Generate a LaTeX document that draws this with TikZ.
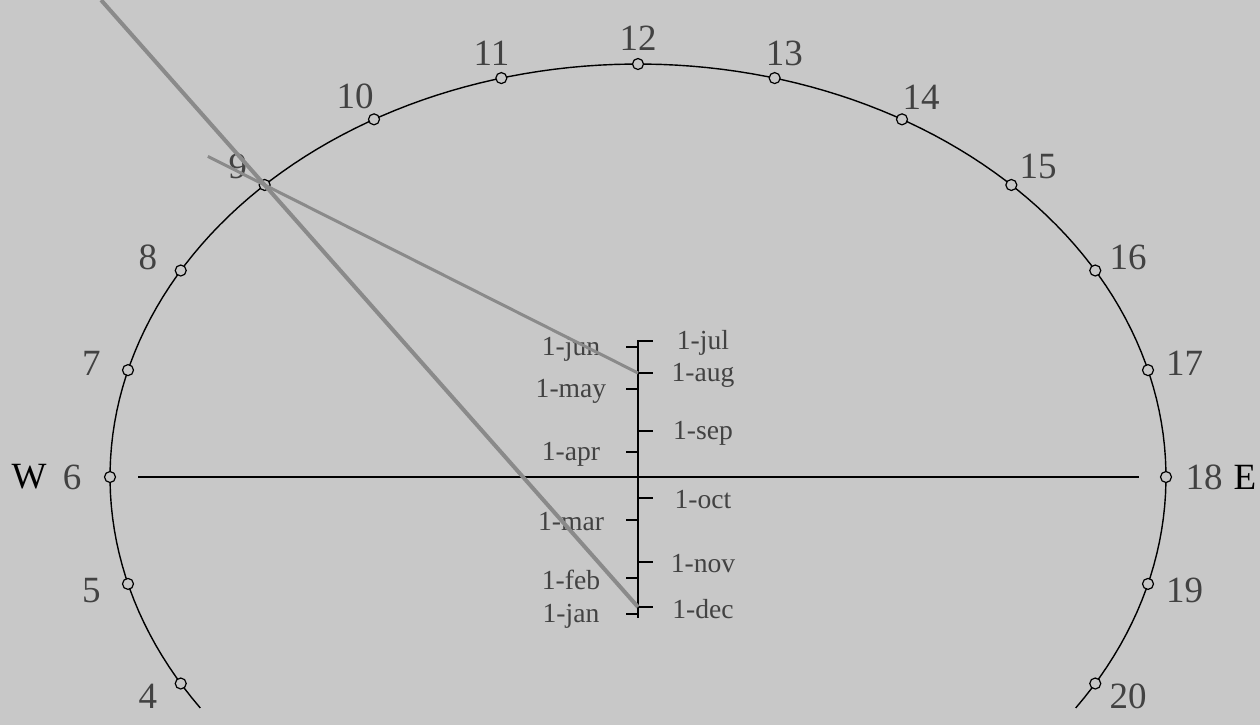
\documentclass[tikz,border=0pt]{standalone}
\usepackage{fontspec}
\setmainfont{Liberation Serif}
\usetikzlibrary{calc}

\definecolor{dialbg}{RGB}{200,200,200}
\definecolor{numgray}{RGB}{66,66,66}
\definecolor{shadowgray}{RGB}{138,138,138}

\begin{document}
\begin{tikzpicture}[x=0.5pt,y=-0.5pt,
    hourdot/.style={circle,draw=black,fill=dialbg,line width=0.6pt,inner sep=0pt,minimum size=5.5pt},
    hourlbl/.style={text=numgray,font=\fontsize{18.5}{20}\selectfont,inner sep=0pt},
    compasslbl/.style={text=black,font=\fontsize{18.5}{20}\selectfont,inner sep=0pt},
    datelbl/.style={text=numgray,font=\fontsize{13.8}{15}\selectfont,inner sep=0pt},
    gnomonline/.style={draw=shadowgray}]

    % Background
    \fill[dialbg] (0,0) rectangle (1260,725);
    \useasboundingbox (0,0) rectangle (1260,725);

    % Ellipse of the hour points
    \draw[line width=0.7pt] plot[domain=-124:124,samples=150] ({638+528*sin(\x)},{477-413*cos(\x)});

    % Hour points and their labels
    \foreach \h in {4,...,20} {
        \pgfmathsetmacro{\ang}{(\h-12)*15}
        \node[hourdot] (h\h) at ({638+528*sin(\ang)},{477-413*cos(\ang)}) {};
        \node[hourlbl] (l\h) at ({638+566*sin(\ang)},{477-439*cos(\ang)}) {\h};
    }
    \node[compasslbl] (west) at (29,477) {W};
    \node[compasslbl] (east) at (1245,477) {E};

    % East-west line
    \draw[line width=1pt,shorten <=11pt,shorten >=10.5pt] (h6) -- (h18);

    % Date scale
    \coordinate (stop) at (638,340);
    \coordinate (sbot) at (638,618);
    \draw[line width=1pt] (stop) -- (sbot);
    \foreach \name/\y in {jan/614,feb/578,mar/520,apr/452,may/389,jun/347} {
        \coordinate (\name) at (638,\y);
        \draw[line width=1pt] (\name) -- ++(-12,0);
        \node[datelbl] (d\name) at (571,\y+2) {1-\name};
    }
    \foreach \name/\y in {jul/341,aug/373,sep/431,oct/498,nov/562,dec/607} {
        \coordinate (\name) at (638,\y);
        \draw[line width=1pt] (\name) -- ++(15,0);
        \node[datelbl] (d\name) at (703,\y+2) {1-\name};
    }

    % Shadow lines through 9 o'clock
    \draw[gnomonline,line width=2pt] ($(dec)!1.438!(h9)$) -- (dec);
    \draw[gnomonline,line width=1.5pt] ($(aug)!1.152!(h9)$) -- (aug);
\end{tikzpicture}
\end{document}
